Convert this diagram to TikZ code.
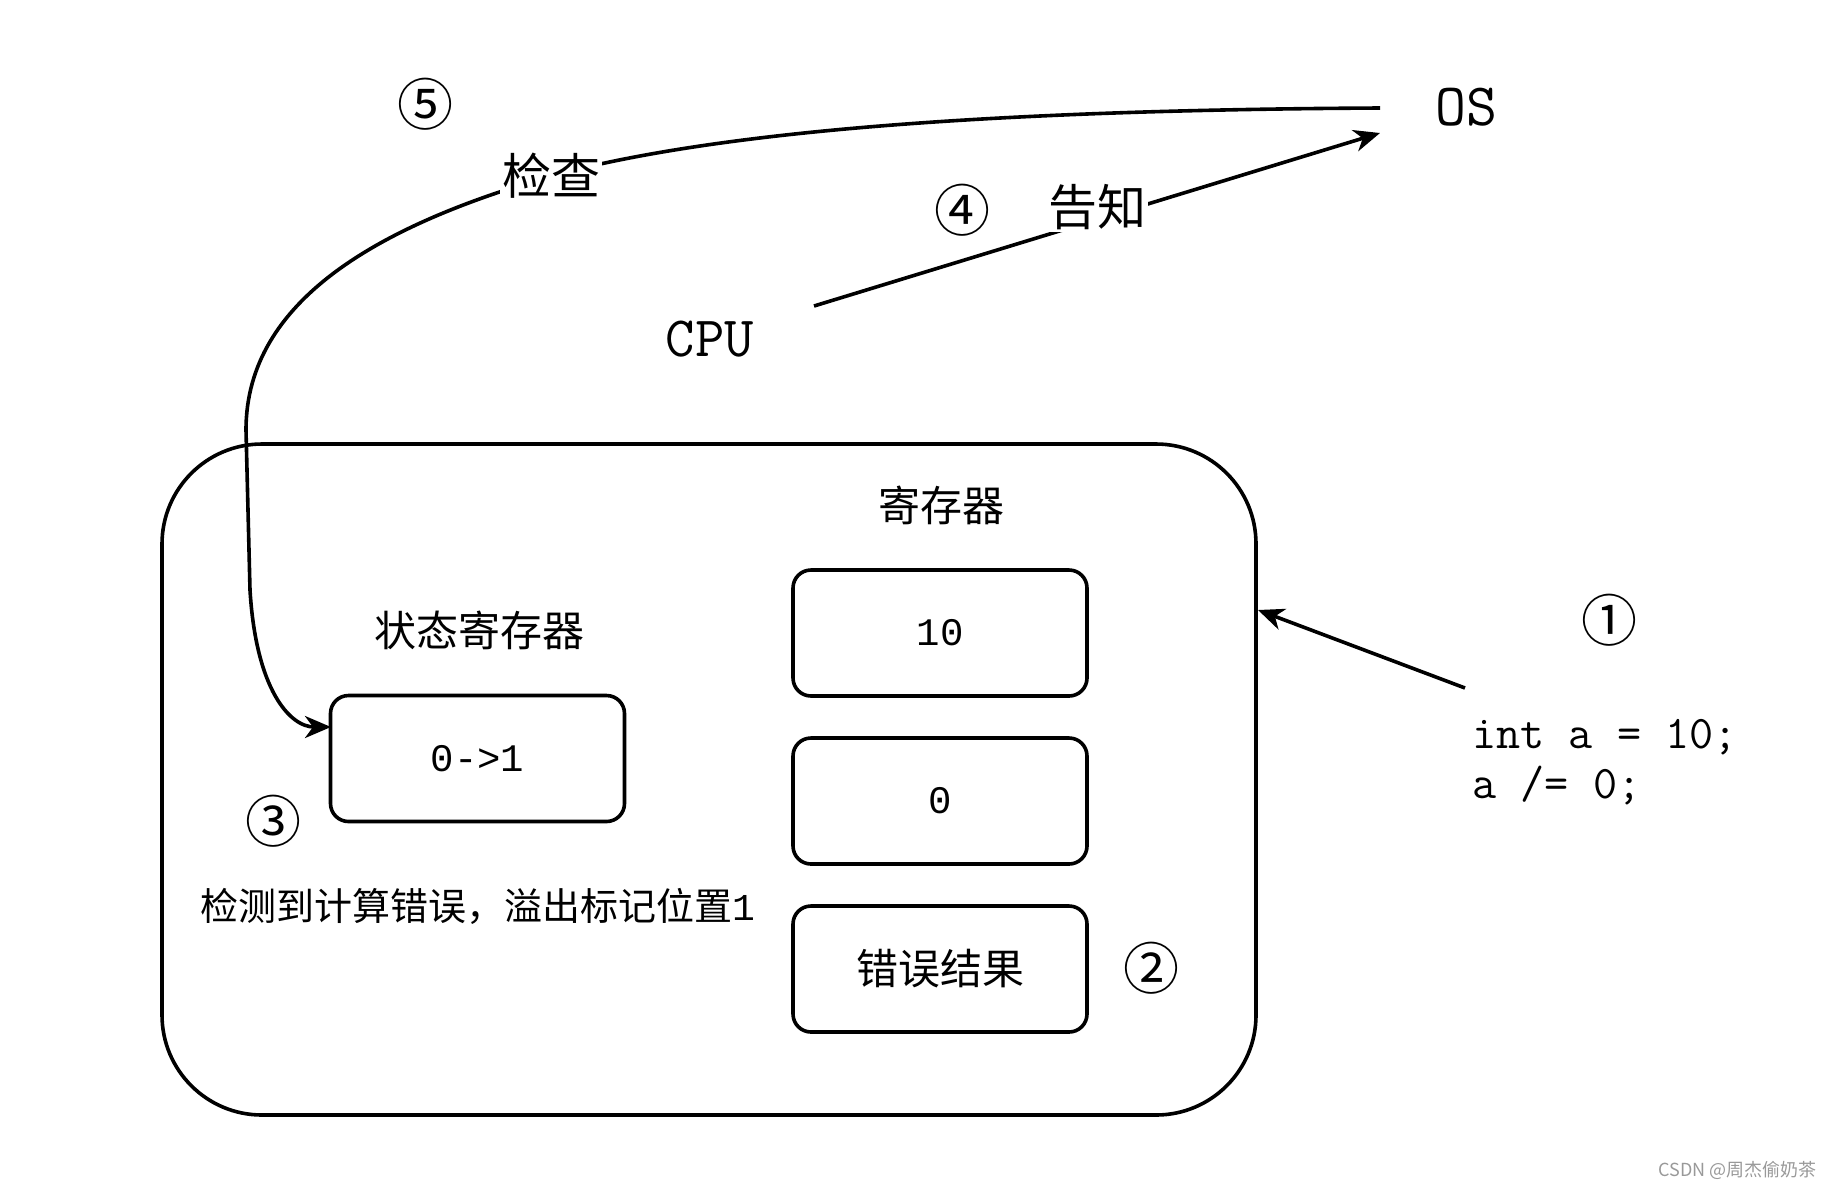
\documentclass[tikz,border=0pt]{standalone}
\usepackage{fontspec}
\setmainfont{Noto Sans CJK SC}
\newfontfamily\valfont{Liberation Mono}
\usetikzlibrary{positioning,arrows.meta}
\tikzset{
regbox/.style={
  draw,
  rounded corners=9pt,
  minimum width=147pt,
  minimum height=63pt,
  font=\valfont\fontsize{19.5pt}{23pt}\selectfont
  },
cjklbl/.style={
  font=\fontsize{#1}{#1}\selectfont
  },
numlbl/.style={
  font=\fontsize{28pt}{28pt}\selectfont
  },
ttlbl/.style={
  font=\ttfamily\fontsize{#1}{#1}\selectfont
  },
gaplbl/.style={
  fill=white,
  inner sep=1pt,
  cjklbl=24.5pt
  }
}

\begin{document}
\begin{tikzpicture}[x=0.5pt,y=-0.5pt,line width=1.8pt,>={Stealth[length=13pt,width=11pt,inset=4pt]}]
            \useasboundingbox (0,0) rectangle (1840,1190);
            % cpu
            \node[draw,rounded corners=50pt,minimum width=547pt,minimum height=335.5pt] (cpubox) at (709,779.5) {};
            \node[regbox] (reg1) at (940,633) {10};
            \node[regbox,below=19.2pt of reg1] (reg2) {0};
            \node[regbox,below=19.2pt of reg2,font=\fontsize{21pt}{21pt}\selectfont] (reg3) {错误结果};
            \node[cjklbl=21pt] (reglbl) at (941,505) {寄存器};
            \node[regbox] (sreg) at (477.5,758.5) {0->1};
            \node[cjklbl=21pt] (sreglbl) at (479,630) {状态寄存器};
            \node[cjklbl=19pt] (errlbl) at (478,906) {检测到计算错误，溢出标记位置{\valfont 1}};
            \node[ttlbl=28.5pt] (cpu) at (710,339) {CPU};
            \node[ttlbl=30pt] (os) at (1466,107) {OS};
            \node[align=left,anchor=west,font=\ttfamily\fontsize{23.4pt}{25pt}\selectfont] (code) at (1464,762) {int a = 10;\\a /= 0;};
            % steps
            \node[numlbl] (n1) at (1609,620) {①};
            \node[numlbl] (n2) at (1151,968) {②};
            \node[numlbl] (n3) at (273,821) {③};
            \node[numlbl] (n4) at (962,210) {④};
            \node[numlbl] (n5) at (425,104) {⑤};
            \node[anchor=east,text=black!40,font=\fontsize{9pt}{9pt}\selectfont] (mark) at (1825,1170) {CSDN @周杰偷奶茶};
            % arrows
            \coordinate (srcout) at (1465,688);
            \coordinate (boxin) at (1258,610);
            \coordinate (cpuout) at (814,306);
            \coordinate (osin) at (1380,133);
            \coordinate (osout) at (1380,108);
            \coordinate (sregin) at (331,727);
            \draw[->] (srcout) -- (boxin);
            \draw[->] (cpuout) -- node[gaplbl,yshift=6pt] (tell) {告知} (osin);
            \draw[->] (osout) .. controls (1000,110) and (720,130) .. (551,176) node[gaplbl] (chk) {检查}
                .. controls (380,225) and (246,300) .. (246,430) -- (250,590)
                .. controls (256,690) and (290,727) .. (sregin);
        \end{tikzpicture}
\end{document}
